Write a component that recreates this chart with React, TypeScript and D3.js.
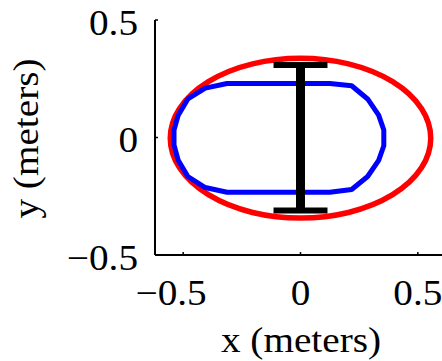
import React from "react";
import * as d3 from "d3";

const xTicks = [-0.5, 0, 0.5];
const yTicks = [-0.5, 0, 0.5];
const xDomain = [-0.62, 0.62];
const yDomain = [-0.5, 0.5];

// red ellipse: center and semi-axes (meters)
const ellipseCenter = [0, -0.003];
const ellipseRadii = [0.555, 0.34];

// blue closed path points (meters)
const blueX = [-0.313, 0.125, 0.218, 0.286, 0.333, 0.355, 0.355, 0.333, 0.286, 0.218, 0.125, -0.313, -0.406, -0.48, -0.521, -0.539, -0.539, -0.521, -0.48, -0.406];
const blueY = [0.23, 0.23, 0.22, 0.164, 0.095, 0.032, -0.035, -0.097, -0.166, -0.221, -0.233, -0.233, -0.213, -0.166, -0.097, -0.032, 0.032, 0.095, 0.164, 0.21];

// black I-beam: vertical span and bar half width
const beamX = 0;
const beamTop = 0.308;
const beamBottom = -0.311;
const beamHalfWidth = 0.115;

export default function App() {
  const x = d3.scaleLinear().domain(xDomain).range([155, 446]);
  const y = d3.scaleLinear().domain(yDomain).range([255, 20]);
  const fs = 36;
  const sx = 1.09;
  const font = "'Liberation Serif', 'Times New Roman', serif";
  const line = d3
    .line<number>()
    .x((_, i) => x(blueX[i]))
    .y((_, i) => y(blueY[i]))
    .curve(d3.curveLinearClosed);
  const fmt = (v: number) => (v < 0 ? "\u2212" + Math.abs(v) : String(v));
  return (
    <svg width={442} height={361} style={{ position: "absolute", left: 0, top: 0, background: "#fff" }}>
      {/* axes */}
      <line x1={x(xDomain[0])} x2={x(xDomain[1])} y1={y(-0.5)} y2={y(-0.5)} stroke="#000" strokeWidth={2} />
      <line x1={x(xDomain[0])} x2={x(xDomain[0])} y1={y(-0.5)} y2={y(0.5)} stroke="#000" strokeWidth={2} />
      {xTicks.map((t) => (
        <line key={"xt" + t} x1={x(t)} x2={x(t)} y1={y(-0.5)} y2={y(-0.5) - 3} stroke="#000" strokeWidth={1.5} />
      ))}
      {yTicks.map((t) => (
        <line key={"yt" + t} x1={x(xDomain[0])} x2={x(xDomain[0]) + 3} y1={y(t)} y2={y(t)} stroke="#000" strokeWidth={1.5} />
      ))}
      {xTicks.map((t) => (
        <text
          key={"xl" + t}
          transform={`translate(${x(t) + (t < 0 ? -12 : 0)},305) scale(${sx},1)`}
          textAnchor="middle"
          fontFamily={font}
          fontSize={fs}
        >
          {fmt(t)}
        </text>
      ))}
      {yTicks.map((t) => (
        <text
          key={"yl" + t}
          transform={`translate(138,${y(t) + 14.5}) scale(${sx},1)`}
          textAnchor="end"
          fontFamily={font}
          fontSize={fs}
        >
          {fmt(t)}
        </text>
      ))}
      <text transform={`translate(301,352) scale(${sx},1)`} textAnchor="middle" fontFamily={font} fontSize={fs}>
        x (meters)
      </text>
      <text transform={`translate(38,138.5) rotate(-90) scale(${sx},1)`} textAnchor="middle" fontFamily={font} fontSize={fs}>
        y (meters)
      </text>
      {/* red ellipse */}
      <ellipse
        cx={x(ellipseCenter[0])}
        cy={y(ellipseCenter[1])}
        rx={x(ellipseRadii[0]) - x(0)}
        ry={y(0) - y(ellipseRadii[1])}
        fill="none"
        stroke="#ff0000"
        strokeWidth={5.5}
      />
      {/* blue path */}
      <path d={line(blueX) || ""} fill="none" stroke="#0000ff" strokeWidth={5} strokeLinejoin="round" />
      {/* black I-beam */}
      <line x1={x(beamX)} x2={x(beamX)} y1={y(beamTop)} y2={y(beamBottom)} stroke="#000" strokeWidth={9} />
      <line x1={x(beamX - beamHalfWidth)} x2={x(beamX + beamHalfWidth)} y1={y(beamTop)} y2={y(beamTop)} stroke="#000" strokeWidth={6} />
      <line x1={x(beamX - beamHalfWidth)} x2={x(beamX + beamHalfWidth)} y1={y(beamBottom)} y2={y(beamBottom)} stroke="#000" strokeWidth={6} />
    </svg>
  );
}
